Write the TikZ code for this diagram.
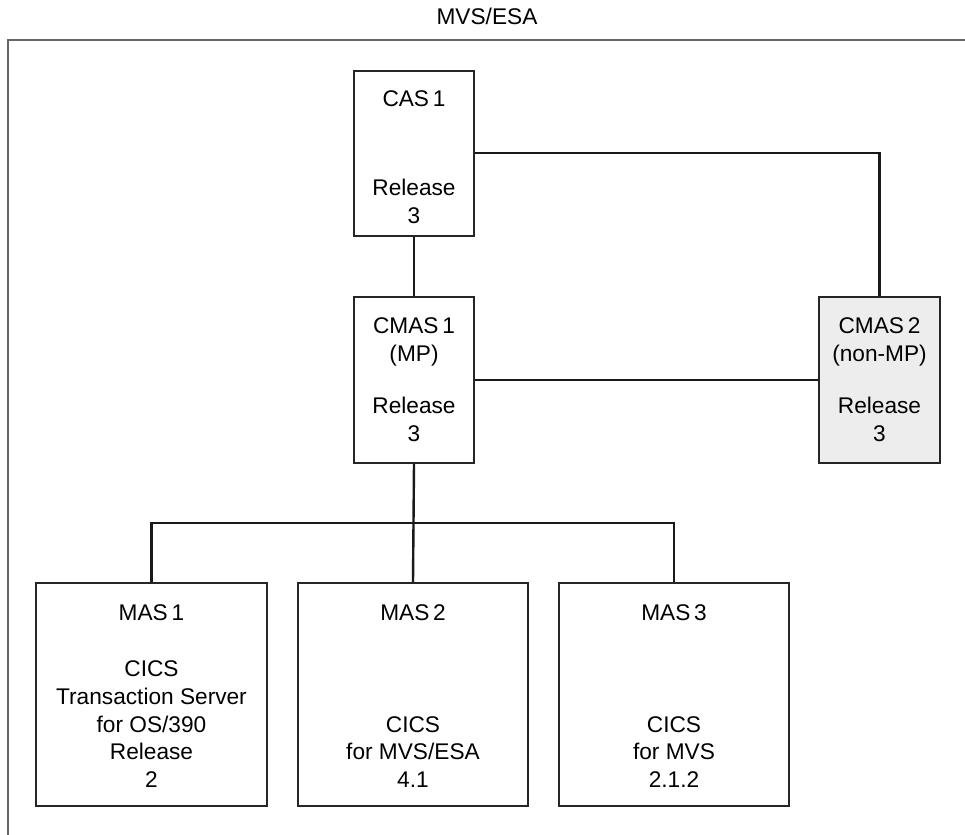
\documentclass[tikz,border=0pt]{standalone}
\usepackage{fontspec}
\setmainfont{Liberation Sans}
\begin{document}
\begin{tikzpicture}[x=0.75pt,y=-0.75pt,
  box/.style={draw=black!85,line width=1.1pt,inner sep=0pt,fill=white},
  graybox/.style={box,fill=black!7},
  txt/.style={anchor=base,inner sep=0pt,font=\fontsize{17}{21}\selectfont,text=black},
  link/.style={draw=black!90,line width=1.8pt},
  frame/.style={draw=black!60,line width=1.2pt}]
\useasboundingbox (0,0) rectangle (965,835);
\draw[frame] (965,40) -- (8,40) -- (8,835);
\node[txt] (title) at (487,25) {MVS/ESA};
% boxes
\node[box,minimum width=90pt,minimum height=123.75pt] (cas) at (414,153.5) {};
\node[box,minimum width=90pt,minimum height=124.5pt] (cmas1) at (414,380) {};
\node[graybox,minimum width=90.75pt,minimum height=124.5pt] (cmas2) at (879.5,380) {};
\node[box,minimum width=173.25pt,minimum height=167.25pt] (mas1) at (151.5,694.5) {};
\node[box,minimum width=172.5pt,minimum height=167.25pt] (mas2) at (413,694.5) {};
\node[box,minimum width=172.5pt,minimum height=167.25pt] (mas3) at (674,694.5) {};
% connectors
\coordinate (bus) at (414,523);
\draw[link] (cas.south) -- (cmas1.north);
\draw[link] (cas.east |- 0,153) -| (cmas2.north);
\draw[link] (cmas1.east |- 0,380) -- (cmas2.west |- 0,380);
\draw[link] (cmas1.south) -- (mas2.north);
\draw[link] (mas1.north) |- (bus) -| (mas3.north);
% texts
\node[txt] (t1) at (414,106) {CAS\,1};
\node[txt] (t2) at (414,195) {Release};
\node[txt] (t3) at (414,223) {3};
\node[txt] (t4) at (414,333) {CMAS\,1};
\node[txt] (t5) at (414,361) {(MP)};
\node[txt] (t6) at (414,413) {Release};
\node[txt] (t7) at (414,441) {3};
\node[txt] (t8) at (879.5,333) {CMAS\,2};
\node[txt] (t9) at (879.5,361) {(non-MP)};
\node[txt] (t10) at (879.5,413) {Release};
\node[txt] (t11) at (879.5,441) {3};
\node[txt] (m1) at (151.5,620) {MAS\,1};
\node[txt] (m1a) at (151.5,676) {CICS};
\node[txt] (m1b) at (151.5,704) {Transaction Server};
\node[txt] (m1c) at (151.5,732) {for OS/390};
\node[txt] (m1d) at (151.5,759) {Release};
\node[txt] (m1e) at (151.5,787) {2};
\node[txt] (m2) at (413,620) {MAS\,2};
\node[txt] (m2a) at (413,732) {CICS};
\node[txt] (m2b) at (413,759) {for MVS/ESA};
\node[txt] (m2c) at (413,787) {4.1};
\node[txt] (m3) at (674,620) {MAS\,3};
\node[txt] (m3a) at (674,732) {CICS};
\node[txt] (m3b) at (674,759) {for MVS};
\node[txt] (m3c) at (674,787) {2.1.2};
\end{tikzpicture}
\end{document}
